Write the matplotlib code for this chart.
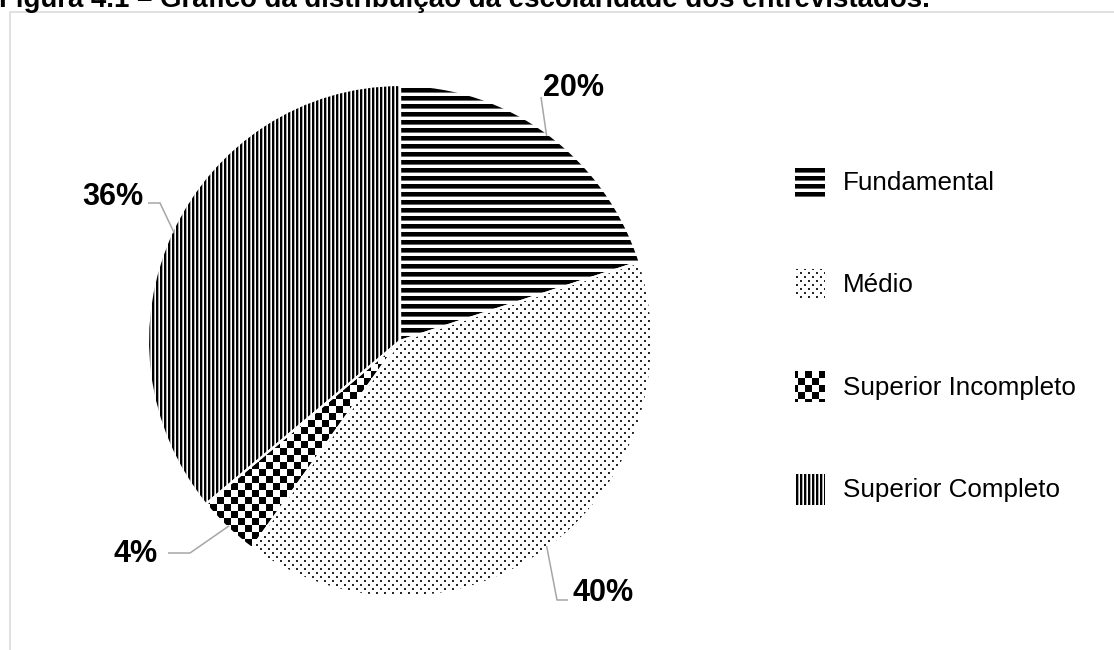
#!/usr/bin/env python3
# -*- coding: utf-8 -*-
"""
escolaridade_pie.py
-----------------------------------------------------
• pie chart of schooling level of the interviewees.
• black/white fill patterns (stripes, dots, checkerboard) instead of colours.
"""

import numpy as np
import matplotlib
matplotlib.use("Agg")
import matplotlib.pyplot as plt
from matplotlib.patches import Rectangle
from matplotlib.lines import Line2D
from matplotlib.transforms import IdentityTransform

plt.rcParams["font.family"] = ["Liberation Sans", "DejaVu Sans"]

TITLE = "Figura 4.1 – Gráfico da distribuição da escolaridade dos entrevistados."

categories = ["Fundamental", "Médio", "Superior Incompleto", "Superior Completo"]
values = [20, 40, 4, 36]                       # percent
patterns = ["hline", "dots", "checker", "vline"]

# label anchors (left, baseline) and leader line bend points, in pixels
label_px = [(543, 96), (573, 601), (114, 562), (82, 205)]
leader_px = [
    [(541, 97)],
    [(557, 600), (568, 600)],
    [(190, 553), (168, 553)],
    [(160, 203), (148, 203)],
]

W, H, DPI = 1114, 650, 100
CX, CY = 400, 341                              # pie centre in pixels
RX, RY = 252, 256                              # pie radii in pixels
LEADER = "#a6a6a6"
BORDER = "#d9d9d9"


def to_data(p):
    return (p[0] - CX) / RX, (CY - p[1]) / RY


def pattern_rgba(kind: str, h: int, w: int) -> np.ndarray:
    """black ink on transparent background, aligned to the pixel grid"""
    yy, xx = np.indices((h, w))
    if kind == "hline":
        ink = (yy % 8 < 4).astype(float)
        ink[yy % 8 == 4] = 0.6
    elif kind == "vline":
        ink = (xx % 4 < 2).astype(float)
        ink[xx % 4 == 2] = 0.35
    elif kind == "checker":
        ink = (((xx // 7) + (yy // 7)) % 2 == 0).astype(float)
    elif kind == "dots":
        a = (xx % 8 < 2) & (yy % 8 < 2)
        b = ((xx + 4) % 8 < 2) & ((yy + 4) % 8 < 2)
        ink = (a | b).astype(float) * 0.85
    else:
        ink = np.zeros((h, w))
    rgba = np.zeros((h, w, 4), dtype=np.uint8)
    rgba[..., 3] = (ink * 255).astype(np.uint8)
    return rgba


def main():
    fig = plt.figure(figsize=(W / DPI, H / DPI), dpi=DPI)
    ax = fig.add_axes([0, 0, 1, 1])

    xlim = (-CX / RX, (W - CX) / RX)
    ylim = ((CY - H) / RY, CY / RY)

    wedges, _ = ax.pie(
        values, startangle=90, counterclock=False, radius=1,
        wedgeprops=dict(facecolor="none", edgecolor="white", linewidth=1.6),
    )
    for w in wedges:
        w.set_zorder(3)

    # pattern fill, clipped to each wedge
    for w, kind in zip(wedges, patterns):
        im = ax.imshow(pattern_rgba(kind, H, W), extent=(*xlim, *ylim),
                       interpolation="nearest", aspect="auto", zorder=2)
        im.set_clip_path(w)

    ax.set_aspect("auto")
    ax.set_xlim(*xlim)
    ax.set_ylim(*ylim)
    ax.axis("off")

    # percentage labels with leader lines
    for w, v, lp, pts in zip(wedges, values, label_px, leader_px):
        mid = np.deg2rad((w.theta1 + w.theta2) / 2)
        bend = [to_data(p) for p in pts]
        xs = [np.cos(mid) * 0.99] + [b[0] for b in bend]
        ys = [np.sin(mid) * 0.99] + [b[1] for b in bend]
        ax.plot(xs, ys, color=LEADER, lw=1.1, zorder=4, solid_capstyle="butt")
        lx, ly = to_data(lp)
        ax.text(lx, ly, f"{v}%", ha="left", va="baseline",
                fontsize=22, fontweight="bold", color="black", zorder=5)

    # legend drawn in pixel coords so the patterns stay on the pixel grid
    px = IdentityTransform()
    for i, (name, kind) in enumerate(zip(categories, patterns)):
        base = H - (190 + i * 102.5)
        box = Rectangle((795, base + 9 - 15), 29, 30, transform=px,
                        facecolor="none", edgecolor="none")
        fig.add_artist(box)
        im = fig.figimage(pattern_rgba(kind, H, W), xo=0, yo=0, zorder=3)
        im.set_clip_path(box)
        fig.text(843 / W, base / H, name, ha="left", va="baseline",
                 fontsize=18.7, color="black")

    # chart area border (only top and left edges fall inside the frame)
    fig.add_artist(Line2D([9.5, 9.5, W + 5], [-5, H - 12, H - 12],
                          transform=px, color=BORDER, lw=1.1))

    # caption, partly cut off at the top edge
    fig.text(-1 / W, (H - 7) / H, TITLE, ha="left", va="baseline",
             fontsize=19.9, fontweight="bold", color="black")

    fig.savefig("out.png", dpi=DPI)
    plt.close(fig)


if __name__ == "__main__":
    main()
